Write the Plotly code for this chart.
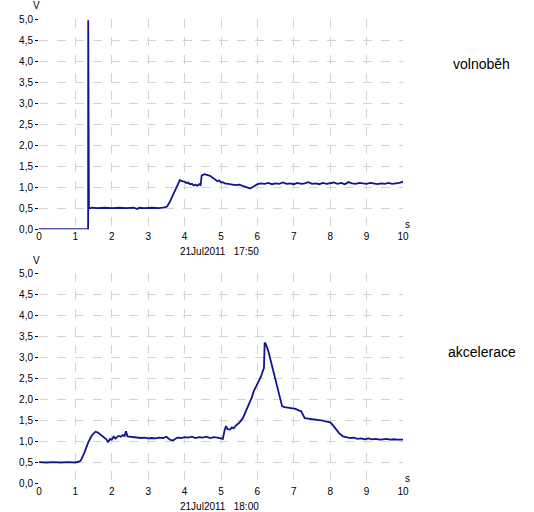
import plotly.graph_objects as go

# Top chart: volnoběh (idle)
top_t = [0, 1.35, 1.352, 1.358, 1.365, 1.372, 1.45, 1.6, 1.8, 2.0, 2.2, 2.4, 2.6, 2.7, 2.75, 2.9, 3.1, 3.3, 3.45, 3.52,
         3.6, 3.7, 3.8, 3.87, 3.92, 4.0, 4.05, 4.1, 4.15, 4.2, 4.25, 4.3, 4.35, 4.4, 4.44, 4.47, 4.55, 4.62, 4.7, 4.78,
         4.85, 4.9, 4.95, 5.0, 5.05, 5.1, 5.2, 5.3, 5.4, 5.5, 5.6, 5.7, 5.8, 5.85, 5.92,
         6.0, 6.1, 6.2, 6.3, 6.4, 6.5, 6.6, 6.7, 6.8, 6.9, 7.0, 7.1, 7.2, 7.3, 7.4, 7.5, 7.6, 7.7, 7.8, 7.9, 8.0,
         8.1, 8.2, 8.3, 8.4, 8.5, 8.6, 8.7, 8.8, 8.9, 9.0, 9.1, 9.2, 9.3, 9.4, 9.5, 9.6, 9.7, 9.8, 9.9, 10.0]
top_v = [0.0, 0.0, 4.97, 0.50, 2.70, 0.49, 0.51, 0.50, 0.51, 0.50, 0.51, 0.50, 0.51, 0.48, 0.51, 0.50, 0.51, 0.50, 0.52, 0.54,
         0.66, 0.85, 1.05, 1.17, 1.14, 1.13, 1.10, 1.11, 1.07, 1.08, 1.04, 1.06, 1.03, 1.07, 1.05, 1.28, 1.31, 1.29, 1.27, 1.22,
         1.18, 1.14, 1.16, 1.11, 1.12, 1.09, 1.08, 1.07, 1.05, 1.06, 1.03, 1.01, 0.97, 0.99, 1.03,
         1.07, 1.09, 1.08, 1.10, 1.07, 1.09, 1.08, 1.11, 1.08, 1.09, 1.07, 1.10, 1.08, 1.09, 1.12, 1.08, 1.09, 1.07, 1.10, 1.08, 1.09,
         1.11, 1.08, 1.10, 1.07, 1.12, 1.09, 1.08, 1.10, 1.09, 1.08, 1.10, 1.08, 1.07, 1.09, 1.08, 1.10, 1.08, 1.09, 1.10, 1.13]

# Bottom chart: akcelerace (acceleration)
bot_t = [0, 0.2, 0.4, 0.6, 0.8, 1.0, 1.1, 1.15, 1.25, 1.35, 1.45, 1.55, 1.62, 1.7, 1.78, 1.85, 1.9, 1.95, 2.0, 2.05,
         2.1, 2.18, 2.25, 2.3, 2.35, 2.39, 2.43, 2.5, 2.6, 2.7, 2.8, 2.9, 3.0, 3.1, 3.2, 3.3, 3.4, 3.5, 3.55, 3.6,
         3.68, 3.75, 3.8, 3.9, 4.0, 4.1, 4.2, 4.3, 4.4, 4.5, 4.6, 4.7, 4.8, 4.9, 5.0, 5.05, 5.1, 5.14, 5.18, 5.25,
         5.3, 5.35, 5.4, 5.5, 5.6, 5.7, 5.8, 5.85, 5.9, 5.95, 6.0, 6.05, 6.1, 6.15, 6.18, 6.2, 6.23, 6.3, 6.4, 6.5,
         6.6, 6.68, 6.75, 6.85, 6.95, 7.05, 7.15, 7.2, 7.3, 7.4, 7.5, 7.6, 7.7, 7.8, 7.9, 8.0, 8.05, 8.15, 8.25, 8.35,
         8.45, 8.55, 8.65, 8.75, 8.85, 8.95, 9.05, 9.15, 9.25, 9.35, 9.45, 9.55, 9.65, 9.75, 9.85, 9.95, 10.0]
bot_v = [0.52, 0.51, 0.52, 0.51, 0.52, 0.51, 0.53, 0.56, 0.75, 0.98, 1.15, 1.24, 1.22, 1.17, 1.12, 1.06, 0.99, 1.07, 1.05, 1.12,
         1.08, 1.14, 1.12, 1.16, 1.14, 1.25, 1.13, 1.12, 1.11, 1.10, 1.09, 1.10, 1.08, 1.09, 1.08, 1.10, 1.09, 1.12, 1.08, 1.05,
         1.03, 1.07, 1.10, 1.09, 1.11, 1.10, 1.12, 1.09, 1.11, 1.10, 1.12, 1.09, 1.11, 1.10, 1.08, 1.07, 1.28, 1.37, 1.30, 1.29,
         1.34, 1.32, 1.38, 1.45, 1.56, 1.75, 1.98, 2.06, 2.20, 2.28, 2.36, 2.47, 2.55, 2.68, 2.75, 3.35, 3.32, 3.15, 2.80, 2.40,
         2.05, 1.84, 1.82, 1.81, 1.79, 1.78, 1.74, 1.73, 1.56, 1.55, 1.53, 1.52, 1.51, 1.50, 1.48, 1.46, 1.42, 1.30, 1.20, 1.13,
         1.11, 1.09, 1.10, 1.07, 1.08, 1.06, 1.08, 1.06, 1.07, 1.05, 1.06, 1.07, 1.05, 1.06, 1.05, 1.06, 1.05]

x_ticks = list(range(0, 11))
y_ticks = [0, 0.5, 1.0, 1.5, 2.0, 2.5, 3.0, 3.5, 4.0, 4.5, 5.0]
titles = ["volnoběh", "akcelerace"]
dates = ["21Jul2011   17:50", "21Jul2011   18:00"]

LINE = "#14148c"
fig = go.Figure()
fig.add_trace(go.Scatter(x=top_t, y=top_v, mode="lines", line=dict(color=LINE, width=1.8),
                         xaxis="x", yaxis="y", showlegend=False))
fig.add_trace(go.Scatter(x=bot_t, y=bot_v, mode="lines", line=dict(color=LINE, width=1.8),
                         xaxis="x2", yaxis="y2", showlegend=False))

tickfont = dict(family="Liberation Sans, Arial, sans-serif", size=10, color="#000000")
xax = dict(range=[0, 10], tickvals=x_ticks, showgrid=True, gridcolor="#d4d4d4", griddash="dash",
           gridwidth=1, zeroline=False, showline=False, ticks="", tickfont=tickfont, ticklabelstandoff=0,
           automargin=False)
yax = dict(range=[0, 5], tickvals=y_ticks, tickformat=".1f", showgrid=True, gridcolor="#d4d4d4",
           griddash="dash", gridwidth=1, zeroline=False, showline=False, ticks="outside", ticklen=3,
           tickcolor="#000000", tickfont=tickfont, automargin=False)

fig.update_layout(
    width=534, height=512,
    margin=dict(l=39, r=131, t=19, b=28),
    paper_bgcolor="white", plot_bgcolor="white",
    separators=",.",
    xaxis=dict(xax, domain=[0, 1], anchor="y"),
    yaxis=dict(yax, domain=[0.548, 1], anchor="x"),
    xaxis2=dict(xax, domain=[0, 1], anchor="y2"),
    yaxis2=dict(yax, domain=[0, 0.4537], anchor="x2"),
)

small = dict(family="Liberation Sans, Arial, sans-serif", size=10, color="#000000")
big = dict(family="Liberation Sans, Arial, sans-serif", size=14, color="#000000")
ann = []
for ytop, ybot_s, ydate, ytitle, title, date in [(1.028, 0.559, 0.499, 0.903, titles[0], dates[0]),
                                                 (0.48, 0.011, -0.049, 0.284, titles[1], dates[1])]:
    ann.append(dict(text="V", x=-0.006, y=ytop, xref="paper", yref="paper", showarrow=False,
                    xanchor="center", yanchor="middle", font=small))
    ann.append(dict(text="s", x=1.011, y=ybot_s, xref="paper", yref="paper", showarrow=False,
                    xanchor="center", yanchor="middle", font=small))
    ann.append(dict(text=date, x=0.497, y=ydate, xref="paper", yref="paper", showarrow=False,
                    xanchor="center", yanchor="middle", font=small))
    ann.append(dict(text=title, x=1.217, y=ytitle, xref="paper", yref="paper", showarrow=False,
                    xanchor="center", yanchor="middle", font=big))
fig.update_layout(annotations=ann)

# remove the browser's default 8px body margin so the figure fills the window exactly
fig.write_html("out.html", config={"displayModeBar": False},
               post_script="document.body.style.margin='0';document.body.style.overflow='hidden';")
